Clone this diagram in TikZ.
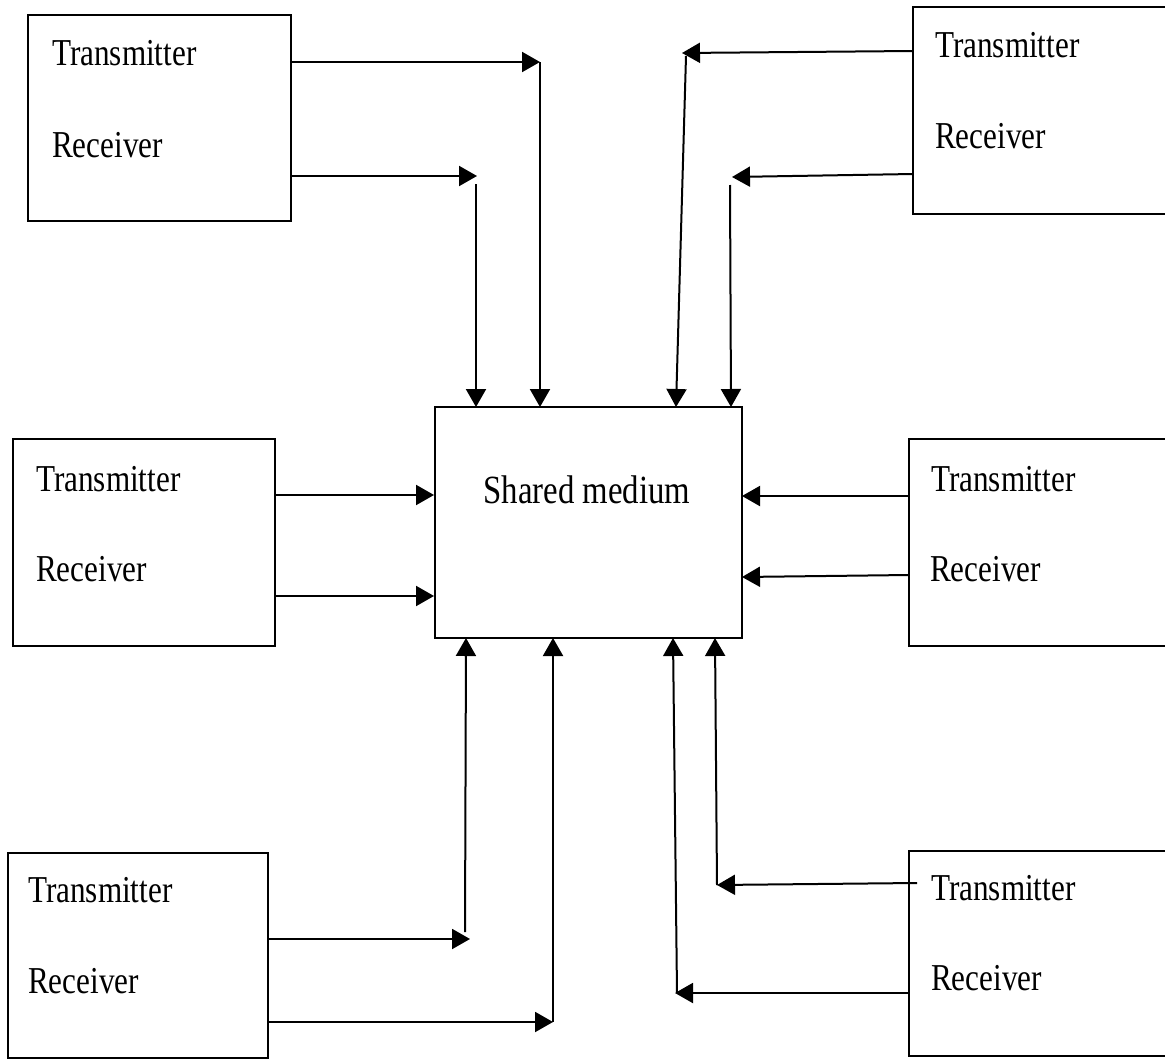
\documentclass[tikz,border=0pt]{standalone}
\usepackage{fontspec}
\newfontfamily\narrowserif[FakeStretch=0.82]{Liberation Serif}
\usetikzlibrary{arrows.meta}
\begin{document}
\begin{tikzpicture}[x=1pt,y=-1pt,
  box/.style={draw=black,line width=2pt,fill=none},
  lbl/.style={anchor=base west,inner sep=0pt,font=\narrowserif\fontsize{38}{40}\selectfont},
  arr/.style={line width=2pt,-{Triangle[length=18pt,width=20pt]}}]
\useasboundingbox (0,0) rectangle (1165,1060);

% stations and the shared medium
\draw[box] (28,15) rectangle (291,221);
\node[minimum width=263pt,minimum height=206pt,inner sep=0pt] (tl) at (159.5,118) {};
\draw[box] (913,7) rectangle (1180,214);
\node[minimum width=267pt,minimum height=207pt,inner sep=0pt] (tr) at (1046.5,110.5) {};
\draw[box] (13,439) rectangle (275,646);
\node[minimum width=262pt,minimum height=207pt,inner sep=0pt] (ml) at (144,542.5) {};
\draw[box] (909,439) rectangle (1180,646);
\node[minimum width=271pt,minimum height=207pt,inner sep=0pt] (mr) at (1044.5,542.5) {};
\draw[box] (8,853) rectangle (268,1058);
\node[minimum width=260pt,minimum height=205pt,inner sep=0pt] (bl) at (138,955.5) {};
\draw[box] (909,851) rectangle (1180,1056);
\node[minimum width=271pt,minimum height=205pt,inner sep=0pt] (br) at (1044.5,953.5) {};
\node[box,minimum width=307pt,minimum height=231pt,inner sep=0pt] (sm) at (588,522.5) {};

% labels
\node[lbl] (tlT) at (52,65) {Transmitter};
\node[lbl] (tlR) at (52,157) {Receiver};
\node[lbl] (trT) at (935,57) {Transmitter};
\node[lbl] (trR) at (935,148) {Receiver};
\node[lbl] (mlT) at (36,491) {Transmitter};
\node[lbl] (mlR) at (36,581) {Receiver};
\node[lbl] (mrT) at (931,491) {Transmitter};
\node[lbl] (mrR) at (930,581) {Receiver};
\node[lbl] (blT) at (28,902) {Transmitter};
\node[lbl] (blR) at (28,993) {Receiver};
\node[lbl] (brT) at (931,900) {Transmitter};
\node[lbl] (brR) at (931,990) {Receiver};
\node[anchor=base,inner sep=0pt,font=\narrowserif\fontsize{40}{42}\selectfont] (smT) at (587,503) {Shared medium};

% bend points of the links
\coordinate (a1) at (540,62);   \coordinate (a1e) at (540,407);
\coordinate (a2) at (477,176);  \coordinate (a2s) at (476,184); \coordinate (a2e) at (476,407);
\coordinate (b1) at (682,53);   \coordinate (b1s) at (686,56);  \coordinate (b1e) at (676,407);
\coordinate (b2) at (732,177);  \coordinate (b2s) at (730,185); \coordinate (b2e) at (731,407);
\coordinate (c1) at (434,495);  \coordinate (c2) at (434,596);
\coordinate (d1) at (742,496);  \coordinate (d2) at (742,577);
\coordinate (e1) at (470,939);  \coordinate (e1s) at (465,932); \coordinate (e1e) at (466,638);
\coordinate (e2) at (553,1022); \coordinate (e2e) at (553,638);
\coordinate (f1) at (717,885);  \coordinate (f1e) at (715,638);
\coordinate (f2) at (675,993);  \coordinate (f2s) at (677,993); \coordinate (f2e) at (673,638);

% top-left station
\draw[arr] (tl.east |- a1) -- (a1);
\draw[arr] (a1) -- (a1e);
\draw[arr] (tl.east |- a2) -- (a2);
\draw[arr] (a2s) -- (a2e);
% top-right station
\draw[arr] (913,51) -- (b1);
\draw[arr] (b1s) -- (b1e);
\draw[arr] (913,174) -- (b2);
\draw[arr] (b2s) -- (b2e);
% middle stations
\draw[arr] (ml.east |- c1) -- (c1);
\draw[arr] (ml.east |- c2) -- (c2);
\draw[arr] (mr.west |- d1) -- (d1);
\draw[arr] (909,575) -- (d2);
% bottom-left station
\draw[arr] (bl.east |- e1) -- (e1);
\draw[arr] (e1s) -- (e1e);
\draw[arr] (bl.east |- e2) -- (e2);
\draw[arr] (e2) -- (e2e);
% bottom-right station
\draw[arr] (917,883) -- (f1);
\draw[arr] (f1) -- (f1e);
\draw[arr] (br.west |- f2) -- (f2);
\draw[arr] (f2s) -- (f2e);
\end{tikzpicture}
\end{document}
